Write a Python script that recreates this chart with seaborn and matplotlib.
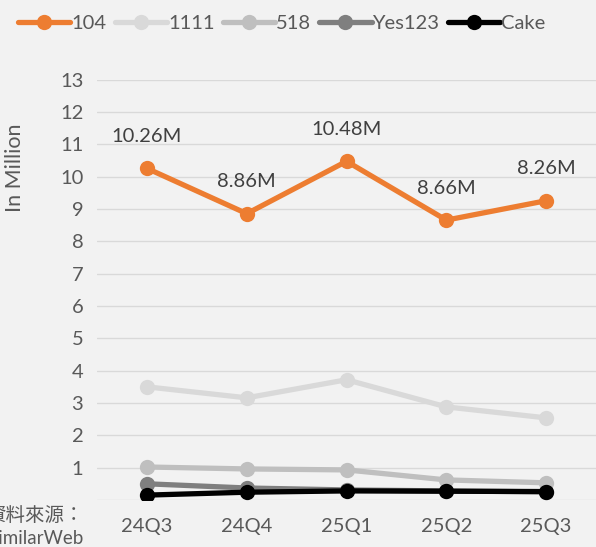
import pandas as pd
import seaborn as sns
import matplotlib.pyplot as plt

# data
quarters = ['24Q3', '24Q4', '25Q1', '25Q2', '25Q3']
v104 = [10.26, 8.86, 10.48, 8.66, 9.26]
v1111 = [3.50, 3.16, 3.72, 2.88, 2.54]
v518 = [1.02, 0.96, 0.93, 0.62, 0.53]
vyes123 = [0.50, 0.37, 0.31, 0.28, 0.25]
vcake = [0.15, 0.24, 0.28, 0.27, 0.26]
labels104 = ['10.26M', '8.86M', '10.48M', '8.66M', '8.26M']

sites = ['104', '1111', '518', 'Yes123', 'Cake']
colors = ['#ED7D31', '#D9D9D9', '#BFBFBF', '#7F7F7F', '#000000']

rows = []
for name, vals in zip(sites, [v104, v1111, v518, vyes123, vcake]):
    for q, v in zip(quarters, vals):
        rows.append({'quarter': q, 'site': name, 'value': v})
df = pd.DataFrame(rows)

sns.set_style('white')
plt.rcParams['font.family'] = ['Lato', 'Noto Sans CJK TC', 'DejaVu Sans']
bg = '#F2F2F2'
txt = '#595959'

fig = plt.figure(figsize=(5.96, 5.47), dpi=100, facecolor=bg)
ax = fig.add_axes([0.163, 0.086, 0.837, 0.768], facecolor=bg)

sns.lineplot(data=df, x='quarter', y='value', hue='site', hue_order=sites,
             palette=colors, marker='o', markersize=11, markeredgewidth=0,
             linewidth=3.8, sort=False, ax=ax)

# data labels for 104
for i, (v, lab) in enumerate(zip(v104, labels104)):
    ax.annotate(lab, (i, v), xytext=(0, 23), textcoords='offset points',
                ha='center', va='center', fontsize=14.5, color='#404040')

ax.set_xlim(-0.5, 4.5)
ax.set_ylim(0, 13)
ax.set_yticks(range(0, 14))
ax.set_yticklabels([''] + [str(i) for i in range(1, 14)])
ax.grid(axis='y', color='#D9D9D9', linewidth=1)
ax.set_axisbelow(True)
for s in ax.spines.values():
    s.set_visible(False)
ax.tick_params(axis='both', length=0, labelsize=14.5, labelcolor=txt)
ax.tick_params(axis='y', pad=10)
ax.tick_params(axis='x', pad=13)
ax.set_xlabel('')
ax.set_ylabel('In Million', fontsize=15.5, color=txt)
ax.yaxis.set_label_coords(-0.145, 0.79)

handles, labs = ax.get_legend_handles_labels()
ax.get_legend().remove()
fig.legend(handles, labs, loc='upper left', bbox_to_anchor=(0.0, 1.005),
           ncol=5, frameon=False, fontsize=14.5, handlelength=2.6,
           handletextpad=0.05, columnspacing=0.4, labelcolor=txt)

fig.text(0.14, 0.058, '資料來源：', ha='right', va='center', fontsize=14, color=txt)
fig.text(0.14, 0.015, 'SimilarWeb', ha='right', va='center', fontsize=13.5, color=txt)

plt.savefig('out.png', dpi=100, facecolor=bg)
